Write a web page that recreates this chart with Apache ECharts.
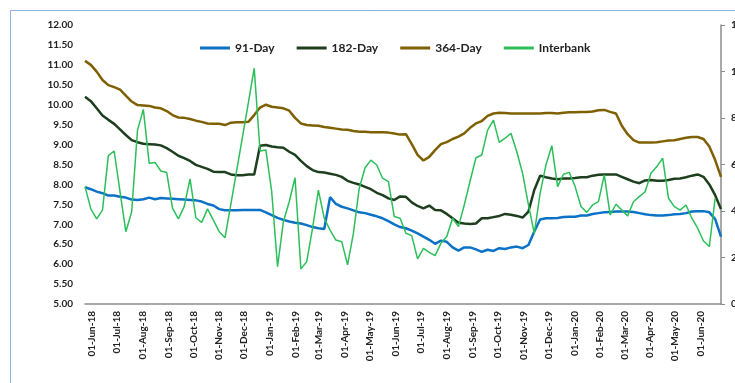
<!DOCTYPE html>
<html>
<head>
<meta charset="utf-8">
<script src="https://cdn.jsdelivr.net/npm/echarts@6/dist/echarts.min.js"></script>
<style>
html,body{margin:0;padding:0;background:#fff;}
#chart{width:735px;height:383px;}
</style>
</head>
<body>
<div id="chart"></div>
<script>
// Weekly observations, first auction week and step
const firstWeek = [2018, 4, 24]; // 24 May 2018
const stepDays = 7;

const seriesNames = ['91-Day', '182-Day', '364-Day', 'Interbank'];
const monthNames = ['Jan','Feb','Mar','Apr','May','Jun','Jul','Aug','Sep','Oct','Nov','Dec'];

const tbill91 = [
  7.93, 7.88, 7.82, 7.78, 7.72, 7.72, 7.69, 7.67, 7.62, 7.61, 7.63, 7.67, 7.63, 7.66, 7.65, 7.64, 7.63, 7.62, 7.61, 7.60, 7.57, 7.51, 7.47, 7.38, 7.35, 7.35, 7.35, 7.36,
  7.36, 7.36, 7.36, 7.30, 7.23, 7.16, 7.11, 7.07, 7.04, 7.02, 6.98, 6.93, 6.90, 6.88, 7.68, 7.51, 7.44, 7.40, 7.35, 7.30, 7.28, 7.24, 7.20, 7.15, 7.08, 7.00, 6.93,
  6.90, 6.84, 6.77, 6.69, 6.61, 6.51, 6.59, 6.56, 6.42, 6.34, 6.42, 6.42, 6.37, 6.31, 6.36, 6.33, 6.40, 6.38, 6.42, 6.44, 6.40, 6.48, 6.82, 7.12, 7.15, 7.15, 7.16,
  7.18, 7.19, 7.19, 7.22, 7.22, 7.26, 7.28, 7.30, 7.31, 7.32, 7.32, 7.32, 7.31, 7.28, 7.25, 7.23, 7.22, 7.22, 7.23, 7.25, 7.26, 7.28, 7.32, 7.33, 7.33, 7.30, 7.13, 6.69
];
const tbill182 = [
  10.20, 10.09, 9.91, 9.73, 9.62, 9.52, 9.38, 9.24, 9.11, 9.06, 9.02, 9.01, 9.00, 8.98, 8.91, 8.82, 8.72, 8.66, 8.59, 8.49, 8.44, 8.39, 8.32, 8.31, 8.31, 8.25, 8.23, 8.23,
  8.25, 8.25, 8.97, 8.99, 8.95, 8.93, 8.92, 8.82, 8.74, 8.59, 8.46, 8.36, 8.31, 8.30, 8.27, 8.24, 8.19, 8.09, 8.04, 8.00, 7.94, 7.88, 7.79, 7.73, 7.65, 7.61, 7.70,
  7.69, 7.55, 7.46, 7.40, 7.47, 7.36, 7.35, 7.26, 7.15, 7.04, 7.02, 7.01, 7.02, 7.15, 7.15, 7.18, 7.21, 7.26, 7.24, 7.21, 7.17, 7.32, 7.86, 8.22, 8.18, 8.15, 8.13,
  8.15, 8.15, 8.16, 8.18, 8.18, 8.22, 8.24, 8.25, 8.25, 8.25, 8.19, 8.13, 8.07, 8.03, 8.10, 8.11, 8.09, 8.09, 8.11, 8.14, 8.15, 8.18, 8.22, 8.25, 8.19, 8.00, 7.73, 7.38
];
const tbill364 = [
  11.10, 11.00, 10.83, 10.62, 10.49, 10.44, 10.38, 10.23, 10.08, 9.99, 9.98, 9.97, 9.93, 9.91, 9.84, 9.74, 9.68, 9.67, 9.64, 9.60, 9.57, 9.53, 9.52, 9.52, 9.49, 9.55, 9.56, 9.56,
  9.57, 9.74, 9.93, 10.00, 9.95, 9.93, 9.91, 9.85, 9.67, 9.53, 9.49, 9.48, 9.47, 9.44, 9.42, 9.40, 9.38, 9.37, 9.34, 9.32, 9.32, 9.31, 9.31, 9.31, 9.30, 9.28, 9.25,
  9.26, 9.01, 8.74, 8.60, 8.69, 8.86, 9.01, 9.06, 9.14, 9.20, 9.28, 9.42, 9.53, 9.59, 9.72, 9.78, 9.80, 9.79, 9.78, 9.78, 9.78, 9.78, 9.78, 9.78, 9.79, 9.79, 9.78,
  9.80, 9.81, 9.81, 9.82, 9.82, 9.83, 9.86, 9.87, 9.82, 9.78, 9.47, 9.26, 9.11, 9.05, 9.05, 9.05, 9.06, 9.08, 9.10, 9.11, 9.14, 9.17, 9.19, 9.19, 9.14, 8.95, 8.61, 8.19
];
const interbank = [
  5.05, 4.09, 3.66, 4.04, 6.38, 6.58, 4.83, 3.11, 3.97, 7.48, 8.37, 6.05, 6.09, 5.72, 5.66, 4.12, 3.66, 4.19, 5.38, 3.71, 3.51, 4.09, 3.61, 3.11, 2.85,
  4.30, 5.75, 7.20, 8.66, 10.14, 6.58, 6.62, 4.83, 1.61, 3.54, 4.40, 5.43, 1.51, 1.82, 3.26, 4.90, 3.69, 3.18, 2.75, 2.68, 1.68, 3.04, 4.98, 5.86, 6.19, 5.98, 5.41, 5.26, 3.76, 3.69, 3.04,
  2.94, 1.94, 2.39, 2.22, 2.08, 2.61, 2.90, 3.69, 3.33, 4.26, 5.29, 6.29, 6.41, 7.48, 7.91, 6.95, 7.13, 7.34, 6.55, 5.62, 4.26, 3.04, 4.76, 5.98, 6.81, 5.05, 5.58,
  5.66, 5.05, 4.19, 3.94, 4.26, 4.40, 5.55, 3.83, 4.29, 4.04, 3.79, 4.40, 4.62, 4.83, 5.62, 5.91, 6.27, 4.55, 4.19, 4.04, 4.26, 3.69, 3.26, 2.71, 2.47, 4.55
];

function weekDate(i) {
  const d = new Date(firstWeek[0], firstWeek[1], firstWeek[2]);
  d.setDate(d.getDate() + i * stepDays);
  return d.getTime();
}
function pairs(arr) { return arr.map((v, i) => [weekDate(i), v]); }

const FONT = 'Lato';
const chart = echarts.init(document.getElementById('chart'), null, {renderer: 'canvas'});
const colors = ['#0B72C6', '#1D3F1E', '#7F6000', '#2BBF5A'];

chart.setOption({
  animation: false,
  backgroundColor: '#ffffff',
  textStyle: {fontFamily: FONT},
  graphic: [{
    type: 'rect', silent: true,
    shape: {x: 10.5, y: 10.5, width: 900, height: 600},
    style: {fill: 'none', stroke: '#8DB3E2', lineWidth: 1}
  }],
  legend: {
    left: 195, top: 37,
    itemWidth: 30, itemHeight: 3, itemGap: 22,
    icon: 'rect',
    textStyle: {fontFamily: FONT, fontSize: 12, fontWeight: 'bold', color: '#222'},
    data: seriesNames
  },
  grid: {left: 85, right: 14, top: 25, bottom: 79, containLabel: false, outerBoundsMode: 'none'},
  xAxis: {
    type: 'time',
    min: weekDate(0),
    max: weekDate(tbill91.length - 1),
    splitNumber: 26,
    minInterval: 28 * 864e5,
    maxInterval: 31 * 864e5,
    axisLine: {show: true, lineStyle: {color: '#8c8c8c', width: 1.5}},
    axisTick: {show: false},
    splitLine: {show: false},
    axisLabel: {
      rotate: 90, margin: 7, fontFamily: FONT, fontSize: 10, fontWeight: 'bold', color: '#222',
      hideOverlap: false, showMinLabel: false, showMaxLabel: false,
      formatter: function (val) {
        const d = new Date(val);
        const dd = String(d.getDate()).padStart(2, '0');
        const yy = String(d.getFullYear()).slice(2);
        return dd + '-' + monthNames[d.getMonth()] + '-' + yy;
      }
    }
  },
  yAxis: [{
    type: 'value', min: 5, max: 12, interval: 0.5,
    axisLine: {show: false}, axisTick: {show: false}, splitLine: {show: false},
    axisLabel: {margin: 12, fontFamily: FONT, fontSize: 10, fontWeight: 'bold', color: '#222',
      formatter: v => v.toFixed(2)}
  }, {
    type: 'value', min: 0, max: 12, interval: 2, position: 'right',
    axisLine: {show: true, lineStyle: {color: '#8c8c8c', width: 1.5}},
    axisTick: {show: true, length: 4, inside: false, lineStyle: {color: '#8c8c8c'}},
    splitLine: {show: false},
    axisLabel: {margin: 10, fontFamily: FONT, fontSize: 10, fontWeight: 'bold', color: '#222'}
  }],
  series: [
    {name: '91-Day', type: 'line', yAxisIndex: 0, data: pairs(tbill91), showSymbol: false, symbol: 'none',
      lineStyle: {color: colors[0], width: 2.5}, itemStyle: {color: colors[0]}},
    {name: '182-Day', type: 'line', yAxisIndex: 0, data: pairs(tbill182), showSymbol: false, symbol: 'none',
      lineStyle: {color: colors[1], width: 2.5}, itemStyle: {color: colors[1]}},
    {name: '364-Day', type: 'line', yAxisIndex: 0, data: pairs(tbill364), showSymbol: false, symbol: 'none',
      lineStyle: {color: colors[2], width: 2.5}, itemStyle: {color: colors[2]}},
    {name: 'Interbank', type: 'line', yAxisIndex: 1, data: pairs(interbank), showSymbol: false, symbol: 'none',
      lineStyle: {color: colors[3], width: 1.5}, itemStyle: {color: colors[3]}}
  ]
});
</script>
</body>
</html>
